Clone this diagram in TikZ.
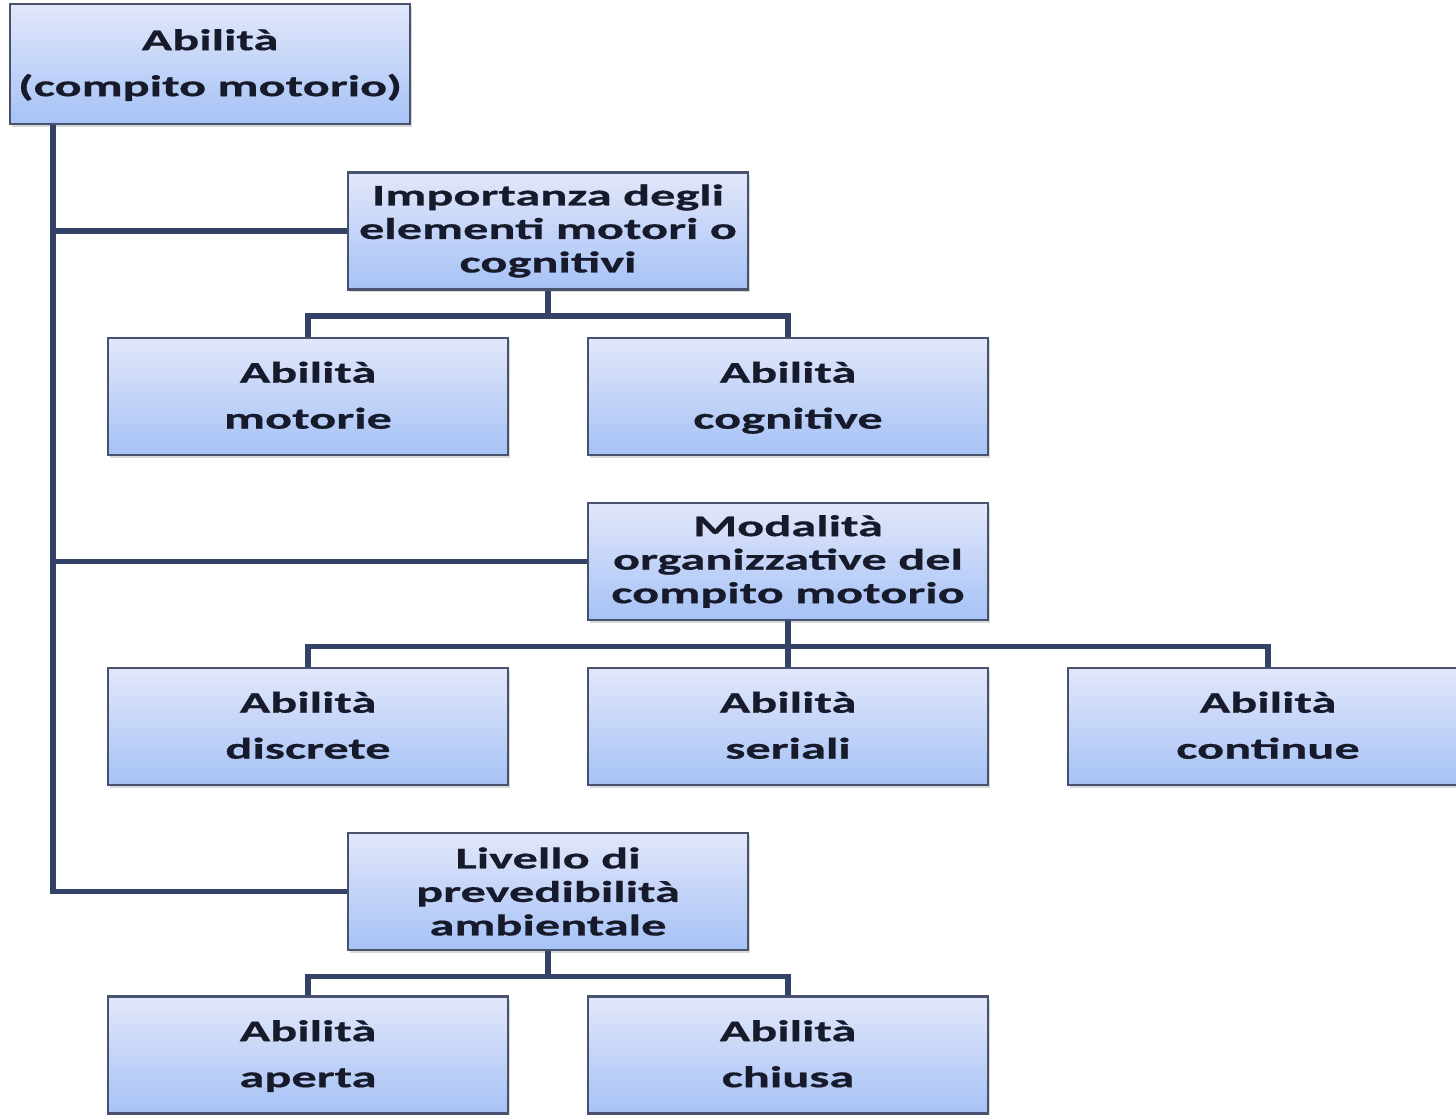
\documentclass[tikz,border=0pt]{standalone}
\usepackage{fontspec}
\newfontfamily\boxfont{Carlito}[FakeStretch=1.68, BoldFeatures={FakeBold=0.6}]
\usetikzlibrary{shadows}

\definecolor{boxtop}{RGB}{226,231,250}
\definecolor{boxbottom}{RGB}{166,194,246}
\definecolor{boxedge}{RGB}{72,82,108}
\definecolor{linkcol}{RGB}{52,66,104}
\definecolor{inkcol}{RGB}{22,26,42}

\tikzset{
  card/.style={draw=boxedge, line width=2.5pt, top color=boxtop, bottom color=boxbottom,
    minimum width=400pt, minimum height=117pt, inner sep=0pt, align=center,
    text=inkcol, font=\boxfont\bfseries\fontsize{30}{46}\selectfont,
    drop shadow={shadow xshift=2pt, shadow yshift=-3pt, opacity=0.3}},
  tallcard/.style={card, font=\boxfont\bfseries\fontsize{30}{33.5}\selectfont},
  link/.style={draw=linkcol, line width=5.5pt}
}

\begin{document}
\begin{tikzpicture}[x=1pt, y=-1pt]
\useasboundingbox (0,0) rectangle (1456,1115);
\clip (0,0) rectangle (1456,1115);

% root and the three criteria
\node[card, minimum height=120pt] (root) at (210,64) {\strut Abilità\\(compito motorio)\strut};
\node[tallcard] (imp) at (548,231) {Importanza degli\\elementi motori o\\cognitivi};
\node[tallcard] (mod) at (788,561.5) {Modalità\\organizzative del\\compito motorio};
\node[tallcard] (liv) at (548,891.5) {Livello di\\prevedibilità\\ambientale};

% leaves (struts keep both lines on the same baselines in every box)
\node[card] (mot) at (308,396.5) {\strut Abilità\\motorie\strut};
\node[card] (cog) at (788,396.5) {\strut Abilità\\cognitive\strut};
\node[card] (dis) at (308,726.5) {\strut Abilità\\discrete\strut};
\node[card] (ser) at (788,726.5) {\strut Abilità\\seriali\strut};
\node[card] (con) at (1268,726.5) {\strut Abilità\\continue\strut};
\node[card] (ape) at (308,1055) {\strut Abilità\\aperta\strut};
\node[card] (chi) at (788,1055) {\strut Abilità\\chiusa\strut};

% trunk from the root down the left side
\coordinate (trunktop) at (53,125);
\path[link] (trunktop) |- (liv.west);
\path[link] (trunktop |- imp.west) -- (imp.west);
\path[link] (trunktop |- mod.west) -- (mod.west);

% branches to the leaves
\foreach \p/\c in {imp/mot, imp/cog, mod/dis, mod/ser, mod/con, liv/ape, liv/chi}{
  \path[link] (\p.south) -- ++(0,25) -| (\c.north);
}
\end{tikzpicture}
\end{document}
